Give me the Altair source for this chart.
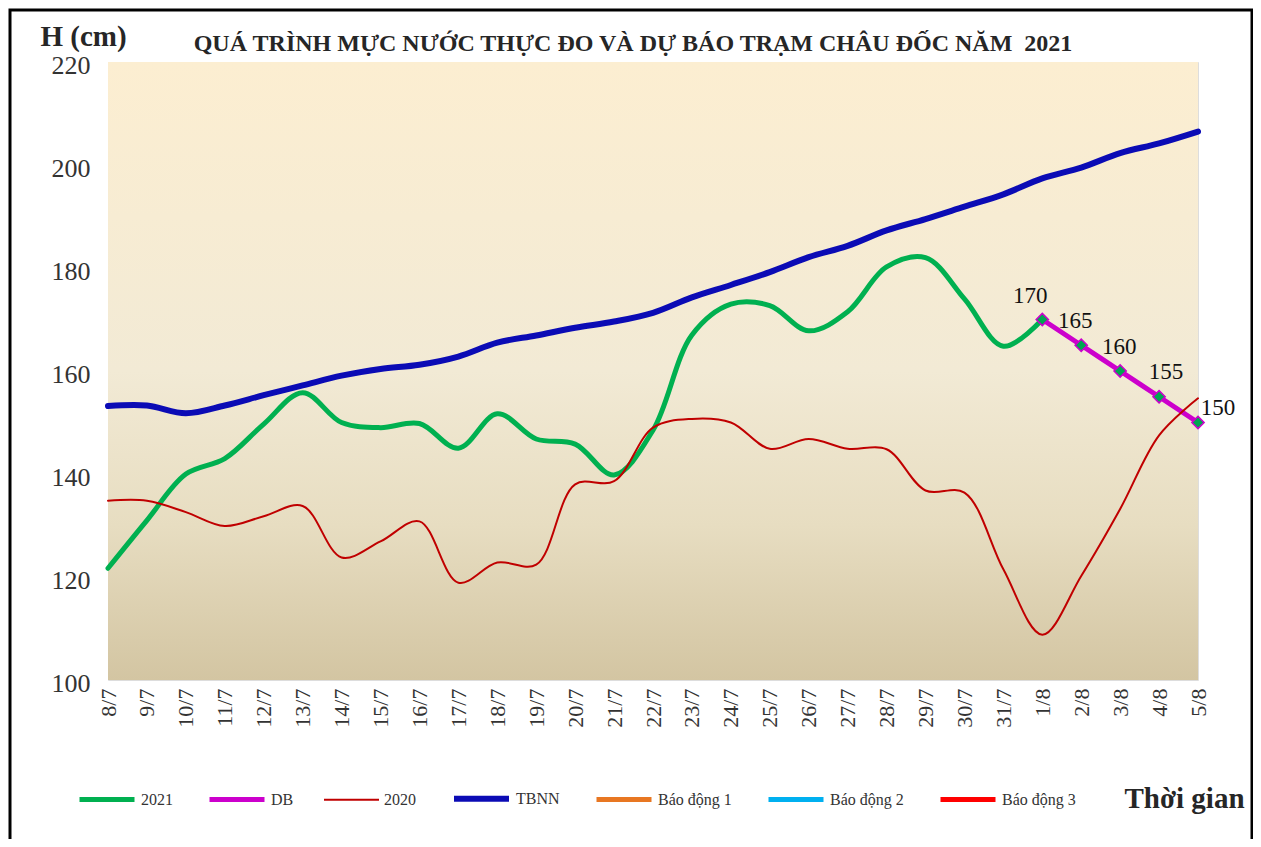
import altair as alt
import pandas as pd

dates = ["8/7", "9/7", "10/7", "11/7", "12/7", "13/7", "14/7", "15/7", "16/7", "17/7",
         "18/7", "19/7", "20/7", "21/7", "22/7", "23/7", "24/7", "25/7", "26/7", "27/7",
         "28/7", "29/7", "30/7", "31/7", "1/8", "2/8", "3/8", "4/8", "5/8"]

h2021 = [121.7, 131.0, 140.0, 143.0, 149.7, 155.8, 150.0, 149.0, 149.8, 145.0,
         151.7, 146.8, 145.8, 139.8, 148.5, 167.0, 173.0, 172.7, 167.8, 171.5,
         180.2, 182.0, 174.0, 164.8, 170.0]

h2020 = [134.8, 134.8, 132.6, 129.9, 131.8, 133.8, 123.8, 126.9, 130.8, 118.9,
         122.8, 122.4, 138.0, 138.6, 149.0, 150.7, 150.0, 144.9, 146.8, 144.9,
         144.8, 136.8, 136.4, 121.5, 108.8, 120.2, 133.2, 147.5, 154.7]

tbnn = [153.2, 153.3, 151.8, 153.3, 155.3, 157.2, 159.1, 160.4, 161.2, 162.8,
        165.5, 166.9, 168.4, 169.6, 171.3, 174.3, 176.7, 179.2, 182.1, 184.3,
        187.3, 189.5, 191.9, 194.3, 197.4, 199.5, 202.3, 204.2, 206.5]

db_dates = ["1/8", "2/8", "3/8", "4/8", "5/8"]
db_values = [170, 165, 160, 155, 150]

series_names = ["2021", "DB", "2020", "TBNN", "Báo động 1", "Báo động 2", "Báo động 3"]
series_colors = ["#00B050", "#CC00CC", "#C00000", "#0B0BB5", "#E87722", "#00B0F0", "#FF0000"]
series_widths = [5, 5, 2, 6, 5, 5, 5]

title_text = "QUÁ TRÌNH MỰC NƯỚC THỰC ĐO VÀ DỰ BÁO TRẠM CHÂU ĐỐC NĂM \u00a02021"

rows = []
for d, v in zip(dates, tbnn):
    rows.append({"date": d, "value": v, "series": "TBNN"})
for d, v in zip(dates, h2021):
    rows.append({"date": d, "value": v, "series": "2021"})
for d, v in zip(db_dates, db_values):
    rows.append({"date": d, "value": v, "series": "DB"})
for d, v in zip(dates, h2020):
    rows.append({"date": d, "value": v, "series": "2020"})
df = pd.DataFrame(rows)
db_df = pd.DataFrame({"date": db_dates, "value": db_values,
                      "label": [str(v) for v in db_values]})

W, H = 1090, 618
FONT = "Liberation Serif"

x_enc = alt.X("date:O", sort=dates,
              scale=alt.Scale(type="point", padding=0),
              axis=alt.Axis(title="Thời gian", labelAngle=270, labelAlign="right",
                            labelBaseline="middle", labelPadding=8, ticks=False,
                            domain=False, grid=False, labelFont=FONT, labelFontSize=22,
                            labelColor="#333333", titleFont=FONT, titleFontSize=29,
                            titleFontWeight="bold", titleColor="#262626",
                            titleAlign="left", titleBaseline="alphabetic",
                            titleX=1016, titleY=127, titleAnchor="start"))
y_enc = alt.Y("value:Q",
              scale=alt.Scale(domain=[100, 220], nice=False, zero=False),
              axis=alt.Axis(title="H (cm)", values=[100, 120, 140, 160, 180, 200, 220],
                            ticks=False, domain=False, grid=False, labelPadding=18,
                            labelOffset=3,
                            labelFont=FONT, labelFontSize=26, labelColor="#333333",
                            titleFont=FONT, titleFontSize=29, titleFontWeight="bold",
                            titleColor="#262626", titleAngle=0, titleAlign="left",
                            titleBaseline="alphabetic", titleX=-68, titleY=-17,
                            titleAnchor="start"))

legend = alt.Legend(title=None, orient="none", direction="horizontal",
                    legendX=-31, legendY=706, symbolType="stroke",
                    symbolSize=3025, labelFont=FONT, labelFontSize=16,
                    labelColor="#333333", labelOffset=4,
                    columnPadding=26, padding=0)
color_enc = alt.Color("series:N",
                      scale=alt.Scale(domain=series_names, range=series_colors),
                      legend=legend)
sw_enc = alt.StrokeWidth("series:N",
                         scale=alt.Scale(type="ordinal", domain=series_names,
                                         range=series_widths),
                         legend=legend)

dummy = alt.Data(values=[{}])

bg = alt.Chart(dummy).mark_rect(
    color=alt.Gradient(gradient="linear", x1=0, x2=0, y1=0, y2=1,
                       stops=[alt.GradientStop(offset=0, color="#FCEED1"),
                              alt.GradientStop(offset=0.5, color="#F2EAD5"),
                              alt.GradientStop(offset=0.75, color="#E7DDC1"),
                              alt.GradientStop(offset=1, color="#D3C5A2")])
).encode(x=alt.value(0), x2=alt.value(W), y=alt.value(0), y2=alt.value(H))

frame = alt.Chart(dummy).mark_rect(filled=False, stroke="black", strokeWidth=3).encode(
    x=alt.value(-98), x2=alt.value(1144), y=alt.value(-52), y2=alt.value(H + 200))

title = alt.Chart(dummy).mark_text(
    text=title_text, font=FONT, fontSize=24, fontWeight="bold", color="#262626",
    align="center", baseline="alphabetic"
).encode(x=alt.value(525), y=alt.value(-11))

layers = [bg, frame, title]
for s in ["TBNN", "2021", "DB", "2020"]:
    layers.append(
        alt.Chart(df).transform_filter(alt.datum.series == s)
        .mark_line(interpolate="catmull-rom", strokeCap="round", strokeJoin="round")
        .encode(x=x_enc, y=y_enc, color=color_enc, strokeWidth=sw_enc)
    )

points = alt.Chart(db_df).mark_point(shape="diamond", filled=True, fill="#00A651",
                                     stroke="#CC00CC", strokeWidth=1.5, size=150,
                                     opacity=1).encode(x=x_enc, y=y_enc)
layers.append(points)

offsets = [(-12, -24), (-6, -24), (-1, -24), (7, -25), (20, -15)]
for lab, (dx, dy) in zip(db_df["label"], offsets):
    layers.append(
        alt.Chart(db_df).transform_filter(alt.datum.label == lab)
        .mark_text(font=FONT, fontSize=23, color="#111111", dx=dx, dy=dy,
                   baseline="middle", align="center")
        .encode(x=x_enc, y=y_enc, text="label:N")
    )

chart = alt.layer(*layers).properties(
    width=W, height=H,
    autosize=alt.AutoSizeParams(type="none"),
    padding={"left": 100, "top": 54, "right": 55, "bottom": 159},
).configure_view(stroke="#1F4E89", strokeWidth=2).configure(background="white")

chart.save("out.html", embed_options={"renderer": "svg", "actions": False})
